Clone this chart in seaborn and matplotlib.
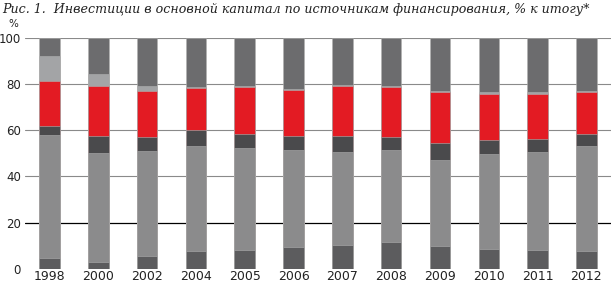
import pandas as pd
import matplotlib.pyplot as plt
import seaborn as sns

# -------- DATA --------
years = ["1998", "2000", "2002", "2004", "2005", "2006", "2007", "2008", "2009", "2010", "2011", "2012"]

seg_bottom = [4.6, 2.9, 5.6, 7.9, 8.1, 9.5, 10.4, 11.8, 10.1, 8.6, 8.3, 7.8]
seg_mid = [53.2, 47.2, 45.2, 45.3, 44.1, 41.7, 40.2, 39.4, 37.1, 41.2, 42.1, 45.4]
seg_dark = [4.1, 7.2, 6.2, 6.9, 6.1, 6.4, 7.0, 5.8, 7.2, 6.0, 5.7, 5.1]
seg_red = [19.4, 21.8, 20.1, 18.3, 20.3, 19.8, 21.5, 21.6, 21.9, 19.7, 19.4, 18.1]
seg_light = [10.5, 5.1, 2.0, 0.4, 0.4, 0.4, 0.4, 0.4, 0.7, 0.8, 0.8, 0.4]

yticks = [0, 20, 40, 60, 80, 100]
title = "Рис. 1.  Инвестиции в основной капитал по источникам финансирования, % к итогу*"

segments = [seg_bottom, seg_mid, seg_dark, seg_red, seg_light]
colors = ["#5c5c5e", "#8b8b8c", "#4a4a4c", "#e31b23", "#a3a4a6", "#6c6c6e"]

# cumulative tops, last segment fills up to 100
df = pd.DataFrame({"year": years})
cum = [0.0] * len(years)
tops = []
for seg in segments:
    cum = [c + v for c, v in zip(cum, seg)]
    tops.append(cum)
tops.append([100.0] * len(years))

# -------- PLOT --------
sns.set_style("white")
plt.rcParams["font.family"] = ["DejaVu Sans"]
fig = plt.figure(figsize=(6.12, 2.82), dpi=100)
ax = fig.add_axes([0.041, 0.046, 0.957, 0.821])

for v in [40, 60, 80, 100]:
    ax.axhline(v, color="#8a8a8a", linewidth=0.8, zorder=0)
ax.axhline(20, color="black", linewidth=0.9, zorder=0)

# draw from top down so each shorter bar covers the one beneath
for i in range(len(tops) - 1, -1, -1):
    df["val"] = tops[i]
    sns.barplot(data=df, x="year", y="val", color=colors[i], width=0.42,
                saturation=1, edgecolor="#b0b0b0", linewidth=0.4, ax=ax, zorder=2)

ax.set_xlim(-0.5, 11.5)
ax.set_ylim(0, 100)
ax.set_yticks(yticks)
ax.set_xlabel("")
ax.set_ylabel("")
ax.tick_params(axis="y", labelsize=8.5, length=2, color="#555555", pad=1, colors="#222222")
ax.tick_params(axis="x", labelsize=9, length=0, pad=1, colors="#222222")
ax.set_xticks(range(len(years)))
ax.set_xticklabels(years)
ax.set_xticks([x - 0.5 for x in range(len(years) + 1)], minor=True)
ax.tick_params(axis="x", which="minor", length=4, color="#555555", direction="out")
for s in ax.spines.values():
    s.set_visible(False)

t = fig.text(0.004, 0.99, title, fontsize=10, style="italic", family="DejaVu Serif",
             va="top", ha="left", color="#222222")
# shrink title so it spans about the same width as in the reference
fig.canvas.draw()
w = t.get_window_extent().width
t.set_fontsize(10 * 586 / w)

fig.text(0.014, 0.915, "%", fontsize=7.5, va="center", ha="left", color="#222222")

plt.savefig("out.png", dpi=100)
